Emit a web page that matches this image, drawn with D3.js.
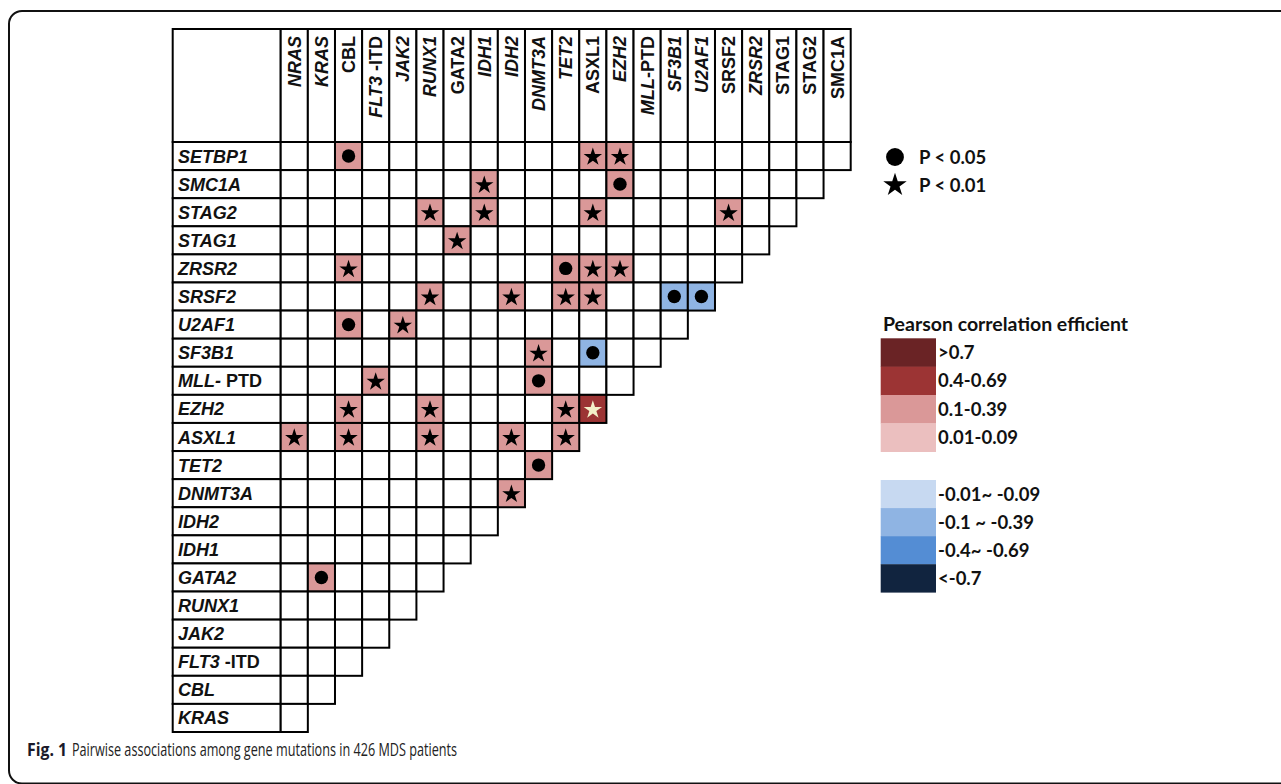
<!DOCTYPE html>
<html><head><meta charset="utf-8">
<script src="https://cdn.jsdelivr.net/npm/d3@7"></script>
<style>body{margin:0;background:#fff}svg{display:block}</style>
</head><body>
<svg id="c" width="1281" height="784"></svg>
<script>
// ---- data ----
const columns = ["NRAS","KRAS","CBL","FLT3-ITD","JAK2","RUNX1","GATA2","IDH1","IDH2","DNMT3A","TET2","ASXL1","EZH2","MLL-PTD","SF3B1","U2AF1","SRSF2","ZRSR2","STAG1","STAG2","SMC1A"];
const rows = ["SETBP1","SMC1A","STAG2","STAG1","ZRSR2","SRSF2","U2AF1","SF3B1","MLL-PTD","EZH2","ASXL1","TET2","DNMT3A","IDH2","IDH1","GATA2","RUNX1","JAK2","FLT3-ITD","CBL","KRAS"];
// number of cells in each row
const rowLengths = [21,20,19,18,17,16,15,14,13,12,11,10,9,8,7,6,5,4,3,2,1];
const posLevels = [">0.7","0.4-0.69","0.1-0.39","0.01-0.09"];
const negLevels = ["-0.01~ -0.09","-0.1 ~ -0.39","-0.4~ -0.69","<-0.7"];
const sigLabels = ["P < 0.05","P < 0.01"];
// [row gene, column gene, correlation class, significance]
const assoc = [
 ["SETBP1","CBL","0.1-0.39","P < 0.05"],
 ["SETBP1","ASXL1","0.1-0.39","P < 0.01"],
 ["SETBP1","EZH2","0.1-0.39","P < 0.01"],
 ["SMC1A","IDH1","0.1-0.39","P < 0.01"],
 ["SMC1A","EZH2","0.1-0.39","P < 0.05"],
 ["STAG2","RUNX1","0.1-0.39","P < 0.01"],
 ["STAG2","IDH1","0.1-0.39","P < 0.01"],
 ["STAG2","ASXL1","0.1-0.39","P < 0.01"],
 ["STAG2","SRSF2","0.1-0.39","P < 0.01"],
 ["STAG1","GATA2","0.1-0.39","P < 0.01"],
 ["ZRSR2","CBL","0.1-0.39","P < 0.01"],
 ["ZRSR2","TET2","0.1-0.39","P < 0.05"],
 ["ZRSR2","ASXL1","0.1-0.39","P < 0.01"],
 ["ZRSR2","EZH2","0.1-0.39","P < 0.01"],
 ["SRSF2","RUNX1","0.1-0.39","P < 0.01"],
 ["SRSF2","IDH2","0.1-0.39","P < 0.01"],
 ["SRSF2","TET2","0.1-0.39","P < 0.01"],
 ["SRSF2","ASXL1","0.1-0.39","P < 0.01"],
 ["SRSF2","SF3B1","-0.1 ~ -0.39","P < 0.05"],
 ["SRSF2","U2AF1","-0.1 ~ -0.39","P < 0.05"],
 ["U2AF1","CBL","0.1-0.39","P < 0.05"],
 ["U2AF1","JAK2","0.1-0.39","P < 0.01"],
 ["SF3B1","DNMT3A","0.1-0.39","P < 0.01"],
 ["SF3B1","ASXL1","-0.1 ~ -0.39","P < 0.05"],
 ["MLL-PTD","FLT3-ITD","0.1-0.39","P < 0.01"],
 ["MLL-PTD","DNMT3A","0.1-0.39","P < 0.05"],
 ["EZH2","CBL","0.1-0.39","P < 0.01"],
 ["EZH2","RUNX1","0.1-0.39","P < 0.01"],
 ["EZH2","TET2","0.1-0.39","P < 0.01"],
 ["EZH2","ASXL1","0.4-0.69","P < 0.01"],
 ["ASXL1","NRAS","0.1-0.39","P < 0.01"],
 ["ASXL1","CBL","0.1-0.39","P < 0.01"],
 ["ASXL1","RUNX1","0.1-0.39","P < 0.01"],
 ["ASXL1","IDH2","0.1-0.39","P < 0.01"],
 ["ASXL1","TET2","0.1-0.39","P < 0.01"],
 ["TET2","DNMT3A","0.1-0.39","P < 0.05"],
 ["DNMT3A","IDH2","0.1-0.39","P < 0.01"],
 ["GATA2","KRAS","0.1-0.39","P < 0.05"]
];
const caption = ["Fig. 1", "Pairwise associations among gene mutations in 426 MDS patients"];

// ---- styles ----
const colorScale = d3.scaleOrdinal()
  .domain(posLevels.concat(negLevels))
  .range(["#6a2325","#9c3434","#da9898","#ebbfbf","#c7d9f1","#8fb4e3","#548dd4","#11243f"]);
const italicCols = new Set(["NRAS","KRAS","JAK2","RUNX1","IDH1","IDH2","DNMT3A","TET2","EZH2","SF3B1","U2AF1","ZRSR2"]);
const gridFont = "'Liberation Sans', Arial, sans-serif";
const legFont = "Lato, 'Open Sans', sans-serif";

const svg = d3.select("#c");
// outer frame
svg.append("rect").attr("x",9).attr("y",11).attr("width",1300).attr("height",772.5)
  .attr("rx",13).attr("fill","none").attr("stroke","#111").attr("stroke-width",2);

const gridLeft = 172.7, gridTop = 29, headerBottom = 142;
const x = d3.scaleBand().domain(columns).range([280.7, 850.7]);
const y = d3.scaleBand().domain(rows).range([headerBottom, 732]);
const g = svg.append("g");
const sw = 2;

// header box
g.append("rect").attr("x",gridLeft).attr("y",gridTop).attr("width",x.range()[0]-gridLeft).attr("height",headerBottom-gridTop)
  .attr("fill","#fff").attr("stroke","#000").attr("stroke-width",sw);
g.selectAll(".hc").data(columns).join("rect")
  .attr("x",d=>x(d)).attr("y",gridTop).attr("width",x.bandwidth()).attr("height",headerBottom-gridTop)
  .attr("fill","#fff").attr("stroke","#000").attr("stroke-width",sw);

// cells
const cells = [];
rows.forEach((r,i)=>{ for(let c=0;c<rowLengths[i];c++) cells.push({r, c:columns[c]}); });
const amap = new Map(assoc.map(a=>[a[0]+"|"+a[1], a]));
g.selectAll(".rl").data(rows).join("rect")
  .attr("x",gridLeft).attr("y",d=>y(d)).attr("width",x.range()[0]-gridLeft).attr("height",y.bandwidth())
  .attr("fill","#fff").attr("stroke","#000").attr("stroke-width",sw);
g.selectAll(".cell").data(cells).join("rect")
  .attr("x",d=>x(d.c)).attr("y",d=>y(d.r)).attr("width",x.bandwidth()).attr("height",y.bandwidth())
  .attr("fill",d=>{const a=amap.get(d.r+"|"+d.c); return a?colorScale(a[2]):"#fff";})
  .attr("stroke","#000").attr("stroke-width",sw);

// markers
const symCircle = d3.symbol().type(d3.symbolCircle).size(140);
const symStar = d3.symbol().type(d3.symbolStar).size(105);
g.selectAll(".mk").data(assoc).join("path")
  .attr("transform",d=>`translate(${x(d[1])+x.bandwidth()/2},${y(d[0])+y.bandwidth()/2+ (d[3]===sigLabels[1]?1:0)})`)
  .attr("d",d=>d[3]===sigLabels[0]?symCircle():symStar())
  .attr("fill",d=>d[2]==="0.4-0.69"?"#f3f0c8":"#000");

// label helpers
function addLabel(sel, name){
  if(name==="FLT3-ITD"){
    sel.append("tspan").attr("font-style","italic").text("FLT3");
    sel.append("tspan").attr("font-style","normal").text(" -ITD");
  } else if(name==="MLL-PTD"){
    sel.append("tspan").attr("font-style","italic").text("MLL");
    sel.append("tspan").attr("font-style","normal").text("-PTD");
  } else sel.text(name);
}
// column labels
g.selectAll(".ct").data(columns).join("text")
  .attr("transform",d=>`translate(${x(d)+x.bandwidth()/2+6.5},36) rotate(-90)`)
  .attr("text-anchor","end").attr("font-family",gridFont).attr("font-weight","bold")
  .attr("font-size",18).attr("fill","#111")
  .attr("font-style",d=>italicCols.has(d)?"italic":"normal")
  .each(function(d){ addLabel(d3.select(this), d); });
// row labels
g.selectAll(".rt").data(rows).join("text")
  .attr("x",178).attr("y",d=>y(d)+y.bandwidth()/2+6.5)
  .attr("font-family",gridFont).attr("font-weight","bold").attr("font-style","italic")
  .attr("font-size",18).attr("fill","#111")
  .each(function(d){
    const s=d3.select(this);
    if(d==="MLL-PTD"){ s.append("tspan").text("MLL-"); s.append("tspan").attr("font-style","normal").text(" PTD"); }
    else if(d==="FLT3-ITD"){ s.append("tspan").text("FLT3"); s.append("tspan").attr("font-style","normal").text(" -ITD"); }
    else s.text(d);
  });

// significance legend
const sig = svg.append("g");
sigLabels.forEach((lab,i)=>{
  const cy = 157 + i*28;
  sig.append("path").attr("transform",`translate(895,${cy})`)
    .attr("d", i===0 ? d3.symbol().type(d3.symbolCircle).size(250)() : d3.symbol().type(d3.symbolStar).size(170)())
    .attr("fill","#000");
  sig.append("text").attr("x",919).attr("y",cy+6.5).attr("font-family",legFont).attr("font-weight","bold")
    .attr("font-size",18.5).attr("fill","#111").text(lab);
});

// colour legend
const leg = svg.append("g");
leg.append("text").attr("x",883).attr("y",331).attr("font-family",legFont).attr("font-weight","bold")
  .attr("font-size",19.5).attr("fill","#111").text("Pearson correlation efficient");
const ly = d3.scaleBand().domain(posLevels).range([338.3, 451.7]);
const ly2 = d3.scaleBand().domain(negLevels).range([480, 592.3]);
[[posLevels,ly],[negLevels,ly2]].forEach(([levels,sc])=>{
  leg.selectAll(null).data(levels).join("rect")
    .attr("x",880.7).attr("y",d=>sc(d)).attr("width",55.3).attr("height",sc.bandwidth()+0.3)
    .attr("fill",d=>colorScale(d));
  leg.selectAll(null).data(levels).join("text")
    .attr("x",938).attr("y",d=>sc(d)+sc.bandwidth()/2+6.5)
    .attr("font-family",legFont).attr("font-weight","bold").attr("font-size",18.5).attr("fill","#111")
    .text(d=>d);
});

// caption
svg.append("text").attr("x",27).attr("y",755.5).attr("font-family","'Open Sans', sans-serif")
  .attr("font-size",17.3).attr("font-weight","bold").attr("fill","#1a1a2a")
  .attr("textLength",40).attr("lengthAdjust","spacingAndGlyphs").text(caption[0]);
svg.append("text").attr("x",72).attr("y",755.5).attr("font-family","'Open Sans', sans-serif")
  .attr("font-size",17.3).attr("fill","#222")
  .attr("textLength",385).attr("lengthAdjust","spacingAndGlyphs").text(caption[1]);
</script>
</body></html>
